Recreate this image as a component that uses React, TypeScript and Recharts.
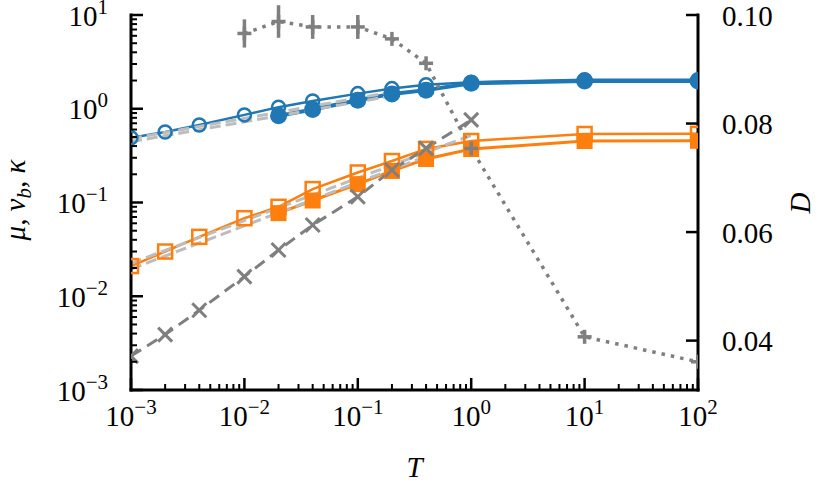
import React from "react";
import { ComposedChart, Line, XAxis, YAxis, ErrorBar, Label } from "recharts";

const W = 821;
const H = 488;
const PLOT = { left: 131, right: 698, top: 15, bottom: 390 };
const FONT = "Liberation Serif";
const FS = 29;

const BLUE = "#1f77b4";
const ORANGE = "#ff7f0e";
const GRAY = "#7f7f7f";
const LIGHT = "#bdbdbd";

// temperatures
const T_ALL = [0.001, 0.002, 0.004, 0.01, 0.02, 0.04, 0.1, 0.2, 0.4, 1, 10, 100];
const T_HIGH = [0.02, 0.04, 0.1, 0.2, 0.4, 1, 10, 100];
const T_KAPPA = [0.001, 0.002, 0.004, 0.01, 0.02, 0.04, 0.1, 0.2, 0.4, 1];
const T_D = [0.01, 0.02, 0.04, 0.1, 0.2, 0.4, 1, 10, 100];

// mu (blue), open and filled markers
const MU_OPEN = [0.49, 0.565, 0.67, 0.86, 1.04, 1.21, 1.45, 1.64, 1.8, 1.92, 2.04, 2.04];
const MU_FILLED = [0.84, 0.98, 1.23, 1.44, 1.58, 1.87, 1.98, 1.98];

// v_b (orange), open and filled markers
const V_OPEN = [0.021, 0.03, 0.043, 0.068, 0.09, 0.139, 0.209, 0.277, 0.373, 0.453, 0.538, 0.54];
const V_FILLED = [0.077, 0.105, 0.157, 0.217, 0.291, 0.372, 0.453, 0.455];

// kappa (grey crosses)
const KAPPA = [0.0023, 0.0039, 0.0071, 0.0162, 0.0311, 0.0575, 0.115, 0.222, 0.378, 0.76];

// D on the right axis, with error
const D_VALS = [0.0966, 0.0988, 0.0978, 0.0978, 0.0956, 0.0911, 0.0754, 0.0407, 0.0361];
const D_ERR = [0.0026, 0.003, 0.0022, 0.0022, 0, 0, 0, 0, 0];

// power-law fits (end points)
const FIT_MU_OPEN_T = [0.001, 0.2];
const FIT_MU_OPEN = [0.48, 1.51];
const FIT_MU_FILLED_T = [0.001, 0.2];
const FIT_MU_FILLED = [0.445, 1.37];
const FIT_V_OPEN_T = [0.001, 1];
const FIT_V_OPEN = [0.0225, 0.52];
const FIT_V_FILLED_T = [0.001, 0.4];
const FIT_V_FILLED = [0.0195, 0.31];

// axes
const X_DECADES = [0.001, 0.01, 0.1, 1, 10, 100];
const X_EXP = ["\u22123", "\u22122", "\u22121", "0", "1", "2"];
const Y_DECADES = [0.001, 0.01, 0.1, 1, 10];
const Y_EXP = ["\u22123", "\u22122", "\u22121", "0", "1"];
const MINOR_MULTS = [2, 3, 4, 5, 6, 7, 8, 9];
const D_TICKS = [0.04, 0.06, 0.08, 0.1];

const withMinors = (decades: number[]) => {
  const out: number[] = [];
  decades.forEach((d, i) => {
    out.push(d);
    if (i < decades.length - 1) MINOR_MULTS.forEach((m) => out.push(d * m));
  });
  return out;
};

const pts = (xs: number[], ys: number[]) => xs.map((T, i) => ({ T, y: ys[i] }));
const dPts = T_D.map((T, i) => ({ T, y: D_VALS[i], err: D_ERR[i] }));

const txt = { fontFamily: FONT, fontSize: FS, fill: "#000" };
const ital = { fontStyle: "italic" as const };

const openCircle = (p: any) => (
  <circle key={p.index} cx={p.cx} cy={p.cy} r={6.5} fill="none" stroke={BLUE} strokeWidth={2.5} />
);
const filledCircle = (p: any) => (
  <circle key={p.index} cx={p.cx} cy={p.cy} r={8.5} fill={BLUE} stroke="none" />
);
const openSquare = (p: any) => (
  <rect key={p.index} x={p.cx - 7} y={p.cy - 7} width={14} height={14} fill="none" stroke={ORANGE} strokeWidth={2.5} />
);
const filledSquare = (p: any) => (
  <rect key={p.index} x={p.cx - 8} y={p.cy - 8} width={16} height={16} fill={ORANGE} stroke="none" />
);
const crossDot = (p: any) => (
  <g key={p.index} stroke={GRAY} strokeWidth={3}>
    <line x1={p.cx - 7} y1={p.cy - 7} x2={p.cx + 7} y2={p.cy + 7} />
    <line x1={p.cx - 7} y1={p.cy + 7} x2={p.cx + 7} y2={p.cy - 7} />
  </g>
);
const plusDot = (p: any) => (
  <g key={p.index} stroke={GRAY} strokeWidth={3.5}>
    <line x1={p.cx - 7} y1={p.cy} x2={p.cx + 7} y2={p.cy} />
    <line x1={p.cx} y1={p.cy - 7} x2={p.cx} y2={p.cy + 7} />
  </g>
);

// inward ticks, minor ones shorter and without labels
const XTick = (props: any) => {
  const { x, payload } = props;
  const i = X_DECADES.indexOf(payload.value);
  const major = i >= 0;
  return (
    <g>
      <line x1={x} x2={x} y1={PLOT.bottom} y2={PLOT.bottom - (major ? 12 : 6)} stroke="#000" strokeWidth={major ? 2.5 : 2} />
      {major && (
        <text x={x} y={PLOT.bottom + 36} textAnchor="middle" style={txt}>
          10<tspan dy={-12} style={{ fontSize: 21 }}>{X_EXP[i]}</tspan>
        </text>
      )}
    </g>
  );
};

const YTick = (props: any) => {
  const { y, payload } = props;
  const i = Y_DECADES.indexOf(payload.value);
  const major = i >= 0;
  return (
    <g>
      <line x1={PLOT.left} x2={PLOT.left + (major ? 12 : 6)} y1={y} y2={y} stroke="#000" strokeWidth={major ? 2.5 : 2} />
      {major && (
        <text x={PLOT.left - 23} y={y + 10.5} textAnchor="end" style={txt}>
          10<tspan dy={-12} style={{ fontSize: 21 }}>{Y_EXP[i]}</tspan>
        </text>
      )}
    </g>
  );
};

const DTick = (props: any) => {
  const { y, payload } = props;
  return (
    <g>
      <line x1={PLOT.right} x2={PLOT.right - 12} y1={y} y2={y} stroke="#000" strokeWidth={2.5} />
      <text x={PLOT.right + 24} y={y + 10.5} textAnchor="start" style={txt}>
        {payload.value.toFixed(2)}
      </text>
    </g>
  );
};

const spine = { stroke: "#000", strokeWidth: 3, strokeLinecap: "square" as const };

export default function App() {
  return (
    <div style={{ position: "absolute", left: 0, top: 0, width: W, height: H, background: "#fff" }}>
      <ComposedChart width={W} height={H} margin={{ top: PLOT.top, right: 23, bottom: 38, left: 31 }}>
        <XAxis
          dataKey="T"
          type="number"
          scale="log"
          domain={[0.001, 100]}
          allowDataOverflow
          ticks={withMinors(X_DECADES)}
          interval={0}
          tick={<XTick />}
          tickLine={false}
          axisLine={spine}
          height={60}
        >
          <Label
            content={() => (
              <text x={(PLOT.left + PLOT.right) / 2} y={477} textAnchor="middle" style={{ ...txt, ...ital }}>
                T
              </text>
            )}
          />
        </XAxis>
        <XAxis
          xAxisId="top"
          dataKey="T"
          type="number"
          scale="log"
          domain={[0.001, 100]}
          orientation="top"
          height={0}
          tick={false}
          tickLine={false}
          axisLine={spine}
        />
        <YAxis
          yAxisId="L"
          type="number"
          scale="log"
          domain={[0.001, 10]}
          allowDataOverflow
          ticks={withMinors(Y_DECADES)}
          interval={0}
          tick={<YTick />}
          tickLine={false}
          axisLine={spine}
          width={100}
        >
          <Label
            content={() => (
              <text x={25} y={200} transform="rotate(-90, 25, 200)" textAnchor="middle" style={txt}>
                <tspan style={ital}>μ</tspan>, <tspan style={ital}>v</tspan>
                <tspan style={{ ...ital, fontSize: 21 }} dy={6}>b</tspan>
                <tspan dy={-6}>, </tspan>
                <tspan style={ital}>κ</tspan>
              </text>
            )}
          />
        </YAxis>
        <YAxis
          yAxisId="D"
          orientation="right"
          type="number"
          domain={[0.0309, 0.1]}
          allowDataOverflow
          ticks={D_TICKS}
          interval={0}
          tick={<DTick />}
          tickLine={false}
          axisLine={spine}
          width={100}
        >
          <Label
            content={() => (
              <text x={810} y={203} transform="rotate(-90, 810, 203)" textAnchor="middle" style={{ ...txt, ...ital }}>
                D
              </text>
            )}
          />
        </YAxis>

        <Line yAxisId="L" data={pts(T_ALL, V_OPEN)} dataKey="y" stroke={ORANGE} strokeWidth={2.5} dot={openSquare} activeDot={false} isAnimationActive={false} />
        <Line yAxisId="L" data={pts(T_HIGH, V_FILLED)} dataKey="y" stroke={ORANGE} strokeWidth={3} dot={filledSquare} activeDot={false} isAnimationActive={false} />
        <Line yAxisId="L" data={pts(T_ALL, MU_OPEN)} dataKey="y" stroke={BLUE} strokeWidth={2.5} dot={openCircle} activeDot={false} isAnimationActive={false} />
        <Line yAxisId="L" data={pts(T_HIGH, MU_FILLED)} dataKey="y" stroke={BLUE} strokeWidth={4} dot={filledCircle} activeDot={false} isAnimationActive={false} />

        <Line yAxisId="L" data={pts(FIT_MU_OPEN_T, FIT_MU_OPEN)} dataKey="y" stroke={LIGHT} strokeWidth={3} strokeDasharray="11 5" dot={false} activeDot={false} isAnimationActive={false} />
        <Line yAxisId="L" data={pts(FIT_MU_FILLED_T, FIT_MU_FILLED)} dataKey="y" stroke={LIGHT} strokeWidth={3} strokeDasharray="11 5" dot={false} activeDot={false} isAnimationActive={false} />
        <Line yAxisId="L" data={pts(FIT_V_OPEN_T, FIT_V_OPEN)} dataKey="y" stroke={LIGHT} strokeWidth={3} strokeDasharray="11 5" dot={false} activeDot={false} isAnimationActive={false} />
        <Line yAxisId="L" data={pts(FIT_V_FILLED_T, FIT_V_FILLED)} dataKey="y" stroke={LIGHT} strokeWidth={3} strokeDasharray="11 5" dot={false} activeDot={false} isAnimationActive={false} />

        <Line yAxisId="L" data={pts(T_KAPPA, KAPPA)} dataKey="y" stroke={GRAY} strokeWidth={3} strokeDasharray="12 7" dot={crossDot} activeDot={false} isAnimationActive={false} />
        <Line yAxisId="D" data={dPts} dataKey="y" stroke={GRAY} strokeWidth={3.5} strokeDasharray="3.5 6" dot={plusDot} activeDot={false} isAnimationActive={false}>
          <ErrorBar dataKey="err" direction="y" width={0} stroke={GRAY} strokeWidth={3.5} />
        </Line>
      </ComposedChart>
    </div>
  );
}
